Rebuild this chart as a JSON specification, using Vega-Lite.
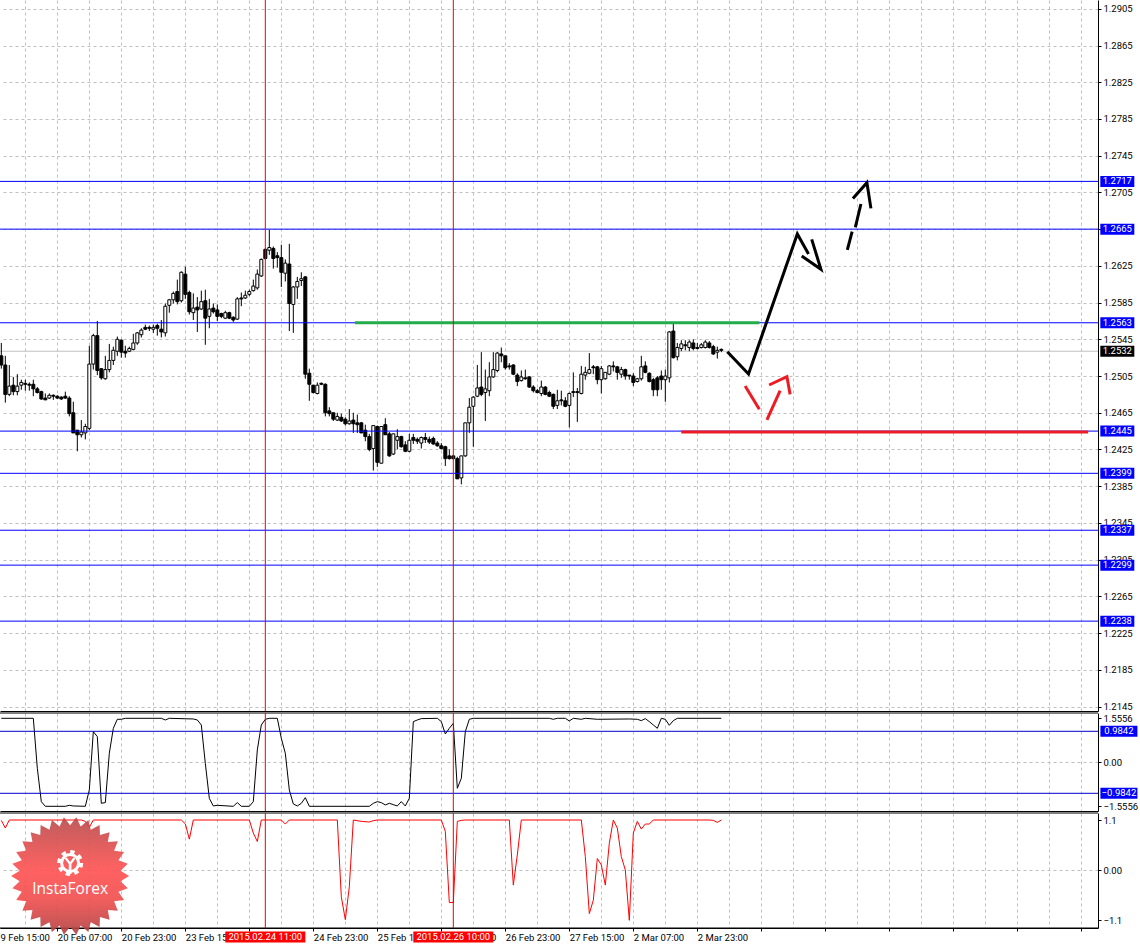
{"$schema":"https://vega.github.io/schema/vega-lite/v6.json","padding":{"left":-1,"top":-1,"right":0,"bottom":0},"background":"white","bounds":"flush","spacing":2,"config":{"font":"Roboto","view":{"stroke":null},"axis":{"title":null,"labelFontSize":9.5,"labelColor":"black","domainColor":"black","tickColor":"black","tickSize":3,"labelPadding":2,"gridColor":"#c0c0c0","gridDash":[3,3],"gridWidth":1,"labelOverlap":false,"labelFlush":false,"labelBound":false}},
"datasets":{
"candles":[
{"bar":0,"open":1.2527,"high":1.2541,"low":1.2513,"close":1.2517},{"bar":1,"open":1.2517,"high":1.2527,"low":1.2476,"close":1.2485},{"bar":2,"open":1.2485,"high":1.2517,"low":1.2483,"close":1.2494},{"bar":3,"open":1.2495,"high":1.2504,"low":1.2484,"close":1.2488},{"bar":4,"open":1.2488,"high":1.2507,"low":1.2484,"close":1.2494},{"bar":5,"open":1.2495,"high":1.2501,"low":1.2490,"close":1.2498},{"bar":6,"open":1.2497,"high":1.2501,"low":1.2489,"close":1.2496},{"bar":7,"open":1.2496,"high":1.2498,"low":1.2489,"close":1.2495},{"bar":8,"open":1.2496,"high":1.2501,"low":1.2483,"close":1.2491},{"bar":9,"open":1.2491,"high":1.2493,"low":1.2486,"close":1.2487},
{"bar":10,"open":1.2488,"high":1.2489,"low":1.2479,"close":1.2480},{"bar":11,"open":1.2481,"high":1.2486,"low":1.2479,"close":1.2479},{"bar":12,"open":1.2481,"high":1.2486,"low":1.2480,"close":1.2484},{"bar":13,"open":1.2484,"high":1.2485,"low":1.2479,"close":1.2483},{"bar":14,"open":1.2483,"high":1.2484,"low":1.2480,"close":1.2481},{"bar":15,"open":1.2482,"high":1.2483,"low":1.2479,"close":1.2480},{"bar":16,"open":1.2483,"high":1.2488,"low":1.2480,"close":1.2481},{"bar":17,"open":1.2481,"high":1.2483,"low":1.2461,"close":1.2464},{"bar":18,"open":1.2465,"high":1.2477,"low":1.2443,"close":1.2443},{"bar":19,"open":1.2446,"high":1.2446,"low":1.2423,"close":1.2441},
{"bar":20,"open":1.2441,"high":1.2457,"low":1.2438,"close":1.2444},{"bar":21,"open":1.2443,"high":1.2453,"low":1.2436,"close":1.2450},{"bar":22,"open":1.2448,"high":1.2538,"low":1.2446,"close":1.2518},{"bar":23,"open":1.2518,"high":1.2551,"low":1.2512,"close":1.2549},{"bar":24,"open":1.2549,"high":1.2565,"low":1.2506,"close":1.2511},{"bar":25,"open":1.2513,"high":1.2513,"low":1.2501,"close":1.2503},{"bar":26,"open":1.2502,"high":1.2527,"low":1.2501,"close":1.2512},{"bar":27,"open":1.2512,"high":1.2540,"low":1.2509,"close":1.2522},{"bar":28,"open":1.2522,"high":1.2537,"low":1.2517,"close":1.2533},{"bar":29,"open":1.2532,"high":1.2548,"low":1.2527,"close":1.2545},
{"bar":30,"open":1.2544,"high":1.2545,"low":1.2525,"close":1.2531},{"bar":31,"open":1.2532,"high":1.2538,"low":1.2525,"close":1.2530},{"bar":32,"open":1.2532,"high":1.2537,"low":1.2531,"close":1.2535},{"bar":33,"open":1.2534,"high":1.2551,"low":1.2533,"close":1.2541},{"bar":34,"open":1.2541,"high":1.2553,"low":1.2539,"close":1.2552},{"bar":35,"open":1.2550,"high":1.2557,"low":1.2547,"close":1.2555},{"bar":36,"open":1.2558,"high":1.2561,"low":1.2555,"close":1.2556},{"bar":37,"open":1.2558,"high":1.2560,"low":1.2554,"close":1.2557},{"bar":38,"open":1.2556,"high":1.2561,"low":1.2552,"close":1.2558},{"bar":39,"open":1.2560,"high":1.2562,"low":1.2549,"close":1.2557},
{"bar":40,"open":1.2556,"high":1.2566,"low":1.2547,"close":1.2553},{"bar":41,"open":1.2552,"high":1.2584,"low":1.2548,"close":1.2581},{"bar":42,"open":1.2582,"high":1.2589,"low":1.2574,"close":1.2588},{"bar":43,"open":1.2588,"high":1.2597,"low":1.2584,"close":1.2595},{"bar":44,"open":1.2597,"high":1.2610,"low":1.2583,"close":1.2586},{"bar":45,"open":1.2587,"high":1.2619,"low":1.2585,"close":1.2618},{"bar":46,"open":1.2616,"high":1.2624,"low":1.2589,"close":1.2594},{"bar":47,"open":1.2596,"high":1.2598,"low":1.2572,"close":1.2575},{"bar":48,"open":1.2574,"high":1.2595,"low":1.2566,"close":1.2579},{"bar":49,"open":1.2580,"high":1.2591,"low":1.2553,"close":1.2577},
{"bar":50,"open":1.2578,"high":1.2598,"low":1.2577,"close":1.2586},{"bar":51,"open":1.2587,"high":1.2599,"low":1.2539,"close":1.2568},{"bar":52,"open":1.2570,"high":1.2589,"low":1.2557,"close":1.2578},{"bar":53,"open":1.2579,"high":1.2584,"low":1.2573,"close":1.2575},{"bar":54,"open":1.2577,"high":1.2583,"low":1.2565,"close":1.2570},{"bar":55,"open":1.2573,"high":1.2574,"low":1.2568,"close":1.2570},{"bar":56,"open":1.2568,"high":1.2576,"low":1.2567,"close":1.2574},{"bar":57,"open":1.2574,"high":1.2575,"low":1.2567,"close":1.2568},{"bar":58,"open":1.2569,"high":1.2570,"low":1.2564,"close":1.2566},{"bar":59,"open":1.2567,"high":1.2591,"low":1.2566,"close":1.2589},
{"bar":60,"open":1.2590,"high":1.2596,"low":1.2581,"close":1.2589},{"bar":61,"open":1.2590,"high":1.2598,"low":1.2589,"close":1.2593},{"bar":62,"open":1.2594,"high":1.2599,"low":1.2592,"close":1.2597},{"bar":63,"open":1.2598,"high":1.2610,"low":1.2597,"close":1.2603},{"bar":64,"open":1.2601,"high":1.2621,"low":1.2599,"close":1.2616},{"bar":65,"open":1.2614,"high":1.2633,"low":1.2613,"close":1.2632},{"bar":66,"open":1.2643,"high":1.2644,"low":1.2632,"close":1.2633},{"bar":67,"open":1.2642,"high":1.2664,"low":1.2637,"close":1.2645},{"bar":68,"open":1.2644,"high":1.2646,"low":1.2622,"close":1.2633},{"bar":69,"open":1.2636,"high":1.2640,"low":1.2623,"close":1.2634},
{"bar":70,"open":1.2634,"high":1.2648,"low":1.2602,"close":1.2618},{"bar":71,"open":1.2617,"high":1.2632,"low":1.2608,"close":1.2628},{"bar":72,"open":1.2627,"high":1.2649,"low":1.2554,"close":1.2584},{"bar":73,"open":1.2583,"high":1.2603,"low":1.2552,"close":1.2602},{"bar":74,"open":1.2602,"high":1.2613,"low":1.2589,"close":1.2608},{"bar":75,"open":1.2609,"high":1.2618,"low":1.2603,"close":1.2611},{"bar":76,"open":1.2613,"high":1.2614,"low":1.2502,"close":1.2507},{"bar":77,"open":1.2508,"high":1.2513,"low":1.2478,"close":1.2496},{"bar":78,"open":1.2495,"high":1.2495,"low":1.2486,"close":1.2487},{"bar":79,"open":1.2486,"high":1.2498,"low":1.2485,"close":1.2495},
{"bar":80,"open":1.2497,"high":1.2498,"low":1.2495,"close":1.2496},{"bar":81,"open":1.2496,"high":1.2497,"low":1.2461,"close":1.2465},{"bar":82,"open":1.2467,"high":1.2471,"low":1.2461,"close":1.2464},{"bar":83,"open":1.2465,"high":1.2465,"low":1.2456,"close":1.2458},{"bar":84,"open":1.2457,"high":1.2465,"low":1.2456,"close":1.2461},{"bar":85,"open":1.2460,"high":1.2464,"low":1.2455,"close":1.2456},{"bar":86,"open":1.2458,"high":1.2460,"low":1.2451,"close":1.2453},{"bar":87,"open":1.2453,"high":1.2469,"low":1.2452,"close":1.2456},{"bar":88,"open":1.2457,"high":1.2465,"low":1.2443,"close":1.2453},{"bar":89,"open":1.2454,"high":1.2463,"low":1.2443,"close":1.2452},
{"bar":90,"open":1.2454,"high":1.2455,"low":1.2443,"close":1.2443},{"bar":91,"open":1.2446,"high":1.2452,"low":1.2434,"close":1.2439},{"bar":92,"open":1.2439,"high":1.2442,"low":1.2423,"close":1.2425},{"bar":93,"open":1.2426,"high":1.2451,"low":1.2402,"close":1.2451},{"bar":94,"open":1.2450,"high":1.2451,"low":1.2406,"close":1.2411},{"bar":95,"open":1.2410,"high":1.2450,"low":1.2410,"close":1.2450},{"bar":96,"open":1.2452,"high":1.2459,"low":1.2441,"close":1.2441},{"bar":97,"open":1.2442,"high":1.2444,"low":1.2417,"close":1.2418},{"bar":98,"open":1.2420,"high":1.2442,"low":1.2419,"close":1.2442},{"bar":99,"open":1.2435,"high":1.2447,"low":1.2425,"close":1.2439},
{"bar":100,"open":1.2439,"high":1.2440,"low":1.2427,"close":1.2428},{"bar":101,"open":1.2430,"high":1.2434,"low":1.2422,"close":1.2423},{"bar":102,"open":1.2423,"high":1.2442,"low":1.2422,"close":1.2435},{"bar":103,"open":1.2438,"high":1.2442,"low":1.2431,"close":1.2435},{"bar":104,"open":1.2436,"high":1.2438,"low":1.2431,"close":1.2434},{"bar":105,"open":1.2432,"high":1.2439,"low":1.2426,"close":1.2438},{"bar":106,"open":1.2438,"high":1.2443,"low":1.2432,"close":1.2436},{"bar":107,"open":1.2436,"high":1.2439,"low":1.2431,"close":1.2433},{"bar":108,"open":1.2437,"high":1.2439,"low":1.2430,"close":1.2431},{"bar":109,"open":1.2432,"high":1.2434,"low":1.2428,"close":1.2429},
{"bar":110,"open":1.2429,"high":1.2432,"low":1.2425,"close":1.2426},{"bar":111,"open":1.2428,"high":1.2429,"low":1.2407,"close":1.2415},{"bar":112,"open":1.2418,"high":1.2425,"low":1.2414,"close":1.2415},{"bar":113,"open":1.2418,"high":1.2419,"low":1.2414,"close":1.2415},{"bar":114,"open":1.2415,"high":1.2417,"low":1.2393,"close":1.2393},{"bar":115,"open":1.2394,"high":1.2418,"low":1.2387,"close":1.2418},{"bar":116,"open":1.2418,"high":1.2454,"low":1.2417,"close":1.2454},{"bar":117,"open":1.2454,"high":1.2481,"low":1.2443,"close":1.2471},{"bar":118,"open":1.2472,"high":1.2483,"low":1.2428,"close":1.2482},{"bar":119,"open":1.2483,"high":1.2517,"low":1.2482,"close":1.2492},
{"bar":120,"open":1.2493,"high":1.2531,"low":1.2483,"close":1.2485},{"bar":121,"open":1.2487,"high":1.2512,"low":1.2456,"close":1.2491},{"bar":122,"open":1.2489,"high":1.2520,"low":1.2483,"close":1.2504},{"bar":123,"open":1.2504,"high":1.2531,"low":1.2503,"close":1.2512},{"bar":124,"open":1.2511,"high":1.2531,"low":1.2509,"close":1.2530},{"bar":125,"open":1.2529,"high":1.2536,"low":1.2520,"close":1.2527},{"bar":126,"open":1.2527,"high":1.2527,"low":1.2512,"close":1.2514},{"bar":127,"open":1.2516,"high":1.2519,"low":1.2512,"close":1.2515},{"bar":128,"open":1.2517,"high":1.2518,"low":1.2506,"close":1.2507},{"bar":129,"open":1.2506,"high":1.2508,"low":1.2494,"close":1.2499},
{"bar":130,"open":1.2500,"high":1.2511,"low":1.2499,"close":1.2504},{"bar":131,"open":1.2503,"high":1.2512,"low":1.2501,"close":1.2502},{"bar":132,"open":1.2504,"high":1.2505,"low":1.2492,"close":1.2493},{"bar":133,"open":1.2493,"high":1.2495,"low":1.2487,"close":1.2489},{"bar":134,"open":1.2489,"high":1.2491,"low":1.2486,"close":1.2487},{"bar":135,"open":1.2486,"high":1.2500,"low":1.2483,"close":1.2493},{"bar":136,"open":1.2493,"high":1.2494,"low":1.2484,"close":1.2485},{"bar":137,"open":1.2487,"high":1.2489,"low":1.2482,"close":1.2483},{"bar":138,"open":1.2485,"high":1.2486,"low":1.2469,"close":1.2472},{"bar":139,"open":1.2473,"high":1.2490,"low":1.2469,"close":1.2478},
{"bar":140,"open":1.2479,"high":1.2489,"low":1.2473,"close":1.2478},{"bar":141,"open":1.2478,"high":1.2482,"low":1.2471,"close":1.2472},{"bar":142,"open":1.2473,"high":1.2487,"low":1.2449,"close":1.2486},{"bar":143,"open":1.2488,"high":1.2509,"low":1.2482,"close":1.2487},{"bar":144,"open":1.2488,"high":1.2492,"low":1.2455,"close":1.2487},{"bar":145,"open":1.2486,"high":1.2516,"low":1.2485,"close":1.2507},{"bar":146,"open":1.2506,"high":1.2515,"low":1.2501,"close":1.2509},{"bar":147,"open":1.2508,"high":1.2530,"low":1.2507,"close":1.2512},{"bar":148,"open":1.2515,"high":1.2517,"low":1.2507,"close":1.2514},{"bar":149,"open":1.2515,"high":1.2516,"low":1.2496,"close":1.2501},
{"bar":150,"open":1.2501,"high":1.2516,"low":1.2486,"close":1.2513},{"bar":151,"open":1.2502,"high":1.2509,"low":1.2501,"close":1.2509},{"bar":152,"open":1.2507,"high":1.2517,"low":1.2506,"close":1.2516},{"bar":153,"open":1.2516,"high":1.2521,"low":1.2510,"close":1.2515},{"bar":154,"open":1.2515,"high":1.2516,"low":1.2501,"close":1.2509},{"bar":155,"open":1.2507,"high":1.2515,"low":1.2503,"close":1.2512},{"bar":156,"open":1.2512,"high":1.2513,"low":1.2501,"close":1.2505},{"bar":157,"open":1.2506,"high":1.2506,"low":1.2501,"close":1.2505},{"bar":158,"open":1.2505,"high":1.2508,"low":1.2494,"close":1.2498},{"bar":159,"open":1.2499,"high":1.2503,"low":1.2498,"close":1.2502},
{"bar":160,"open":1.2502,"high":1.2527,"low":1.2500,"close":1.2515},{"bar":161,"open":1.2516,"high":1.2521,"low":1.2508,"close":1.2509},{"bar":162,"open":1.2508,"high":1.2509,"low":1.2498,"close":1.2499},{"bar":163,"open":1.2501,"high":1.2503,"low":1.2483,"close":1.2490},{"bar":164,"open":1.2503,"high":1.2505,"low":1.2483,"close":1.2490},{"bar":165,"open":1.2505,"high":1.2511,"low":1.2490,"close":1.2501},{"bar":166,"open":1.2501,"high":1.2512,"low":1.2477,"close":1.2505},{"bar":167,"open":1.2503,"high":1.2554,"low":1.2498,"close":1.2553},{"bar":168,"open":1.2554,"high":1.2562,"low":1.2524,"close":1.2525},{"bar":169,"open":1.2526,"high":1.2541,"low":1.2522,"close":1.2536},
{"bar":170,"open":1.2535,"high":1.2544,"low":1.2532,"close":1.2540},{"bar":171,"open":1.2539,"high":1.2544,"low":1.2533,"close":1.2538},{"bar":172,"open":1.2536,"high":1.2544,"low":1.2532,"close":1.2542},{"bar":173,"open":1.2541,"high":1.2545,"low":1.2533,"close":1.2535},{"bar":174,"open":1.2536,"high":1.2541,"low":1.2534,"close":1.2535},{"bar":175,"open":1.2536,"high":1.2541,"low":1.2535,"close":1.2539},{"bar":176,"open":1.2536,"high":1.2544,"low":1.2535,"close":1.2542},{"bar":177,"open":1.2541,"high":1.2543,"low":1.2535,"close":1.2536},{"bar":178,"open":1.2537,"high":1.2539,"low":1.2528,"close":1.2529},{"bar":179,"open":1.2531,"high":1.2537,"low":1.2524,"close":1.2533},
{"bar":180,"open":1.2534,"high":1.2535,"low":1.2531,"close":1.2533}],
"levels":[{"level":1.2717},{"level":1.2665},{"level":1.2563},{"level":1.2445},{"level":1.2399},{"level":1.2337},{"level":1.2299},{"level":1.2238}],
"marks":[{"bar":66},{"bar":113}],
"drawn":[
{"path":"up","kind":"black","seq":1,"bar":181.5,"price":1.25315},{"path":"up","kind":"black","seq":2,"bar":186.8,"price":1.25072},{"path":"up","kind":"black","seq":3,"bar":199,"price":1.26597},{"path":"up","kind":"black","seq":4,"bar":201.8,"price":1.26379},
{"path":"head","kind":"black","seq":1,"bar":200.1,"price":1.26357},{"path":"head","kind":"black","seq":2,"bar":204.9,"price":1.26212},{"path":"head","kind":"black","seq":3,"bar":202.6,"price":1.26539},
{"path":"d1","kind":"black","seq":1,"bar":211.5,"price":1.26423},{"path":"d1","kind":"black","seq":2,"bar":212.7,"price":1.26622},
{"path":"d2","kind":"black","seq":1,"bar":213.5,"price":1.26669},{"path":"d2","kind":"black","seq":2,"bar":214.9,"price":1.26924},
{"path":"d3","kind":"black","seq":1,"bar":212.9,"price":1.26985},{"path":"d3","kind":"black","seq":2,"bar":216.4,"price":1.27156},{"path":"d3","kind":"black","seq":3,"bar":217.4,"price":1.26876},
{"path":"r1","kind":"red","seq":1,"bar":185.95,"price":1.24941},{"path":"r1","kind":"red","seq":2,"bar":189.5,"price":1.24687},
{"path":"r2","kind":"red","seq":1,"bar":191.4,"price":1.24571},{"path":"r2","kind":"red","seq":2,"bar":194.7,"price":1.2489},
{"path":"r3","kind":"red","seq":1,"bar":191.95,"price":1.24952},{"path":"r3","kind":"red","seq":2,"bar":196.4,"price":1.25043},{"path":"r3","kind":"red","seq":3,"bar":197.2,"price":1.2485}],
"logo":[{"bar":17.2,"y":-0.132}]
},
"vconcat":[
{"width":1098,"height":711,"resolve":{"axis":{"x":"independent","y":"independent"}},"layer":[
{"data":{"values":[{"current":1.2532}]},"mark":{"type":"rule","color":"#c0c0c0","strokeWidth":1},"encoding":{"y":{"field":"current","type":"quantitative","scale":{"domain":[1.21401,1.29146],"nice":false,"zero":false},"axis":{"title":null,"orient":"right","grid":true,"domain":true,"ticks":true,"labels":true,"labelOverlap":false,"domainColor":"black","tickColor":"black","values":[1.2905,1.2865,1.2825,1.2785,1.2745,1.2705,1.2665,1.2625,1.2585,1.2545,1.2505,1.2465,1.2425,1.2385,1.2345,1.2305,1.2265,1.2225,1.2185,1.2145],"format":".4f"}}}},
{"data":{"name":"candles"},"mark":{"type":"rule","color":"black","strokeWidth":1},"encoding":{"x":{"field":"bar","type":"quantitative","scale":{"domain":[-0.33,274.17],"nice":false,"zero":false,"padding":0},"axis":{"title":null,"orient":"bottom","grid":true,"values":[6,14,22,30,38,46,54,62,70,78,86,94,102,110,118,126,134,142,150,158,166,174,182,190,198,206,214,222,230,238,246,254,262,270],"labels":false,"ticks":false,"domain":true}},"y":{"field":"high","type":"quantitative","axis":null},"y2":{"field":"low"}}},
{"data":{"name":"candles"},"mark":{"type":"bar","size":3,"stroke":"black","strokeWidth":1},"encoding":{"x":{"field":"bar","type":"quantitative","axis":null,"scale":{"padding":0}},"y":{"field":"open","type":"quantitative","axis":null},"y2":{"field":"close"},"fill":{"condition":{"test":"datum.close>=datum.open","value":"white"},"value":"black"}}},
{"data":{"name":"levels"},"mark":{"type":"rule","color":"#0000ff","strokeWidth":1},"encoding":{"y":{"field":"level","type":"quantitative","axis":null}}},
{"data":{"values":[{"from":88.4,"to":189.5,"resistance":1.2563}]},"mark":{"type":"rule","color":"#22ac4a","strokeWidth":3},"encoding":{"x":{"field":"from","type":"quantitative","axis":null},"x2":{"field":"to"},"y":{"field":"resistance","type":"quantitative","axis":null}}},
{"data":{"values":[{"from":170,"to":271.7,"support":1.2444}]},"mark":{"type":"rule","color":"#ed1c24","strokeWidth":3},"encoding":{"x":{"field":"from","type":"quantitative","axis":null},"x2":{"field":"to"},"y":{"field":"support","type":"quantitative","axis":null}}},
{"data":{"name":"drawn"},"mark":{"type":"line","strokeWidth":3},"encoding":{"x":{"field":"bar","type":"quantitative","axis":null},"y":{"field":"price","type":"quantitative","axis":null},"detail":{"field":"path"},"order":{"field":"seq"},"color":{"field":"kind","type":"nominal","legend":null,"scale":{"domain":["black","red"],"range":["#000000","#ed1c24"]}}}},
{"data":{"name":"marks"},"mark":{"type":"rule","color":"#f00000","strokeWidth":1},"encoding":{"x":{"field":"bar","type":"quantitative","axis":null}}},
{"data":{"name":"levels"},"mark":{"type":"rect","width":34,"height":11,"color":"#0000ff"},"encoding":{"x":{"datum":279,"type":"quantitative","axis":null},"y":{"field":"level","type":"quantitative","axis":null}}},
{"data":{"name":"levels"},"mark":{"type":"text","color":"white","fontSize":9.5,"baseline":"middle","align":"center"},"encoding":{"x":{"datum":279,"type":"quantitative","axis":null},"y":{"field":"level","type":"quantitative","axis":null},"text":{"field":"level","format":".4f"}}},
{"data":{"values":[{"current":1.2532}]},"mark":{"type":"rect","width":34,"height":11,"color":"black"},"encoding":{"x":{"datum":279,"type":"quantitative","axis":null},"y":{"field":"current","type":"quantitative","axis":null}}},
{"data":{"values":[{"current":1.2532}]},"mark":{"type":"text","color":"white","fontSize":9.5,"baseline":"middle","align":"center"},"encoding":{"x":{"datum":279,"type":"quantitative","axis":null},"y":{"field":"current","type":"quantitative","axis":null},"text":{"field":"current","format":".4f"}}}
]},
{"width":1098,"height":98,"resolve":{"axis":{"x":"independent","y":"independent"}},"layer":[
{"data":{"values":[{"top":1.789}]},"mark":{"type":"rule","color":"black","strokeWidth":1},"encoding":{"y":{"field":"top","type":"quantitative","scale":{"domain":[-1.763,-1.5556,-0.9842,0,0.9842,1.5556,1.789],"range":[98,93.3,80.3,49.3,18.3,5.3,0],"nice":false,"zero":false},"axis":{"title":null,"orient":"right","grid":true,"domain":true,"ticks":true,"labels":true,"labelOverlap":false,"domainColor":"black","tickColor":"black","gridOpacity":{"condition":{"test":"datum.value===0","value":1},"value":0},"values":[1.5556,0,-1.5556],"labelExpr":"datum.value===0?'0.00':format(datum.value,'.4f')"}}}},
{"data":{"values":[{"bar":0,"value":1.5556},{"bar":8,"value":1.5556},{"bar":9,"value":-0.19},{"bar":10,"value":-1.351},{"bar":11,"value":-1.5556},{"bar":16,"value":-1.5556},{"bar":17,"value":-1.512},{"bar":18,"value":-1.541},{"bar":21,"value":-1.5556},{"bar":22,"value":-0.878},{"bar":23,"value":0.973},{"bar":24,"value":0.815},{"bar":25,"value":-1.424},{"bar":26,"value":-1.394},{"bar":27,"value":0.286},{"bar":28,"value":1.116},{"bar":29,"value":1.512},{"bar":30,"value":1.512},{"bar":31,"value":1.5556},{"bar":40,"value":1.5556},{"bar":41,"value":1.482},{"bar":42,"value":1.5556},{"bar":48,"value":1.526},{"bar":49,"value":1.482},{"bar":50,"value":1.263},{"bar":51,"value":-0.032},{"bar":52,"value":-1.204},{"bar":53,"value":-1.541},{"bar":54,"value":-1.512},{"bar":58,"value":-1.5556},{"bar":59,"value":-1.394},{"bar":60,"value":-1.5556},{"bar":62,"value":-1.5556},{"bar":63,"value":-1.351},{"bar":64,"value":0.391},{"bar":65,"value":1.263},{"bar":66,"value":1.512},{"bar":67,"value":1.5556},{"bar":69,"value":1.5556},{"bar":70,"value":0.762},{"bar":71,"value":0.286},{"bar":72,"value":-0.878},{"bar":73,"value":-1.453},{"bar":74,"value":-1.541},{"bar":75,"value":-1.424},{"bar":76,"value":-1.175},{"bar":77,"value":-1.5556},{"bar":92,"value":-1.5556},{"bar":93,"value":-1.424},{"bar":94,"value":-1.351},{"bar":95,"value":-1.394},{"bar":96,"value":-1.497},{"bar":97,"value":-1.424},{"bar":98,"value":-1.482},{"bar":99,"value":-1.541},{"bar":100,"value":-1.351},{"bar":101,"value":-1.541},{"bar":102,"value":-1.204},{"bar":103,"value":1.409},{"bar":104,"value":1.482},{"bar":105,"value":1.541},{"bar":109,"value":1.5556},{"bar":110,"value":1.409},{"bar":111,"value":0.899},{"bar":112,"value":1.116},{"bar":113,"value":1.336},{"bar":114,"value":-0.825},{"bar":115,"value":-0.508},{"bar":116,"value":0.973},{"bar":117,"value":1.512},{"bar":118,"value":1.5556},{"bar":137,"value":1.5556},{"bar":138,"value":1.512},{"bar":139,"value":1.5556},{"bar":141,"value":1.5556},{"bar":142,"value":1.438},{"bar":143,"value":1.5556},{"bar":145,"value":1.512},{"bar":146,"value":1.5556},{"bar":149,"value":1.512},{"bar":157,"value":1.526},{"bar":159,"value":1.512},{"bar":160,"value":1.453},{"bar":161,"value":1.541},{"bar":162,"value":1.409},{"bar":163,"value":1.263},{"bar":164,"value":1.116},{"bar":165,"value":1.5556},{"bar":166,"value":1.512},{"bar":167,"value":1.248},{"bar":168,"value":1.453},{"bar":169,"value":1.5556},{"bar":180,"value":1.5556}]},"mark":{"type":"line","color":"black","strokeWidth":1},"encoding":{"x":{"field":"bar","type":"quantitative","scale":{"domain":[-0.33,274.17],"nice":false,"zero":false},"axis":{"title":null,"orient":"bottom","grid":true,"values":[6,14,22,30,38,46,54,62,70,78,86,94,102,110,118,126,134,142,150,158,166,174,182,190,198,206,214,222,230,238,246,254,262,270],"labels":false,"ticks":false,"domain":true}},"y":{"field":"value","type":"quantitative","axis":null}}},
{"data":{"values":[{"level":0.9842},{"level":-0.9842}]},"mark":{"type":"rule","color":"#0000c8","strokeWidth":1},"encoding":{"y":{"field":"level","type":"quantitative","axis":null}}},
{"data":{"name":"marks"},"mark":{"type":"rule","color":"#f00000","strokeWidth":1},"encoding":{"x":{"field":"bar","type":"quantitative","axis":null}}},
{"data":{"values":[{"level":0.9842},{"level":-0.9842}]},"mark":{"type":"rect","width":37,"height":11,"color":"#0000ff"},"encoding":{"x":{"datum":279.4,"type":"quantitative","axis":null},"y":{"field":"level","type":"quantitative","axis":null}}},
{"data":{"values":[{"level":0.9842},{"level":-0.9842}]},"mark":{"type":"text","color":"white","fontSize":9.5,"baseline":"middle","align":"center"},"encoding":{"x":{"datum":279.4,"type":"quantitative","axis":null},"y":{"field":"level","type":"quantitative","axis":null},"text":{"field":"level","format":".4f"}}}
]},
{"width":1098,"height":115,"resolve":{"axis":{"x":"independent","y":"independent"}},"layer":[
{"data":{"values":[{"top":1.254}]},"mark":{"type":"rule","color":"black","strokeWidth":1},"encoding":{"y":{"field":"top","type":"quantitative","scale":{"domain":[-1.276,1.254],"nice":false,"zero":false},"axis":{"title":null,"orient":"right","grid":true,"domain":true,"ticks":true,"labels":true,"labelOverlap":false,"domainColor":"black","tickColor":"black","gridOpacity":{"condition":{"test":"datum.value===0","value":1},"value":0},"values":[1.1,0,-1.1],"labelExpr":"datum.value===0?'0.00':format(datum.value,'.1f')"}}}},
{"data":{"values":[{"bar":0,"value":1.092},{"bar":1,"value":0.923},{"bar":2,"value":1.1},{"bar":20,"value":1.1},{"bar":21,"value":1.07},{"bar":22,"value":0.937},{"bar":23,"value":1.1},{"bar":45,"value":1.1},{"bar":46,"value":1.018},{"bar":47,"value":0.679},{"bar":48,"value":1.1},{"bar":62,"value":1.1},{"bar":63,"value":0.812},{"bar":64,"value":0.627},{"bar":65,"value":1.1},{"bar":70,"value":1.1},{"bar":71,"value":1.011},{"bar":72,"value":1.1},{"bar":84,"value":1.1},{"bar":85,"value":-0.59},{"bar":86,"value":-1.092},{"bar":87,"value":-0.369},{"bar":88,"value":1.1},{"bar":90,"value":1.07},{"bar":92,"value":1.055},{"bar":93,"value":1.085},{"bar":94,"value":1.1},{"bar":110,"value":1.1},{"bar":111,"value":0.849},{"bar":112,"value":-0.716},{"bar":113,"value":-0.716},{"bar":114,"value":1.07},{"bar":115,"value":1.092},{"bar":116,"value":1.1},{"bar":127,"value":1.1},{"bar":128,"value":-0.332},{"bar":129,"value":0.332},{"bar":130,"value":1.1},{"bar":145,"value":1.1},{"bar":146,"value":0.295},{"bar":147,"value":-0.959},{"bar":148,"value":-0.664},{"bar":149,"value":0.251},{"bar":150,"value":0.111},{"bar":151,"value":-0.332},{"bar":152,"value":0.59},{"bar":153,"value":1.1},{"bar":154,"value":0.923},{"bar":155,"value":0.295},{"bar":156,"value":0},{"bar":157,"value":-1.107},{"bar":158,"value":0.812},{"bar":159,"value":1.07},{"bar":160,"value":0.9},{"bar":161,"value":1.011},{"bar":162,"value":1.011},{"bar":163,"value":1.1},{"bar":177,"value":1.1},{"bar":178,"value":1.092},{"bar":179,"value":1.048},{"bar":180,"value":1.1}]},"mark":{"type":"line","color":"#ff0000","strokeWidth":1},"encoding":{"x":{"field":"bar","type":"quantitative","scale":{"domain":[-0.33,274.17],"nice":false,"zero":false},"axis":{"title":null,"orient":"bottom","grid":true,"labelOverlap":false,"gridOpacity":{"condition":{"test":"datum.value>0","value":1},"value":0},"tickOpacity":{"condition":{"test":"datum.value%16===14","value":1},"value":0},"domain":true,"ticks":true,"labelAlign":"left","labelPadding":1,"values":[-0.3,6,14,22,30,38,46,54,62,70,78,86,94,102,110,118,126,134,142,150,158,166,174,182,190,198,206,214,222,230,238,246,254,262,270],"labelExpr":"datum.value<0?'9 Feb 15:00':datum.value===14?'20 Feb 07:00':datum.value===30?'20 Feb 23:00':datum.value===46?'23 Feb 15:00':datum.value===62?'24 Feb 07:00':datum.value===78?'24 Feb 23:00':datum.value===94?'25 Feb 15:00':datum.value===110?'26 Feb 07:00':datum.value===126?'26 Feb 23:00':datum.value===142?'27 Feb 15:00':datum.value===158?'2 Mar 07:00':datum.value===174?'2 Mar 23:00':''"}},"y":{"field":"value","type":"quantitative","axis":null}}},
{"data":{"values":[{"bottom":-1.276}]},"mark":{"type":"rule","color":"black","strokeWidth":1},"encoding":{"y":{"field":"bottom","type":"quantitative","axis":null}}},
{"data":{"name":"marks"},"mark":{"type":"rule","color":"#f00000","strokeWidth":1},"encoding":{"x":{"field":"bar","type":"quantitative","axis":null}}},
{"data":{"values":[{"bar":66,"label":"2015.02.24 11:00"},{"bar":113,"label":"2015.02.26 10:00"}]},"mark":{"type":"rect","width":80,"height":11,"color":"#ff0000"},"encoding":{"x":{"field":"bar","type":"quantitative","axis":null},"y":{"value":124}}},
{"data":{"values":[{"bar":66,"label":"2015.02.24 11:00"},{"bar":113,"label":"2015.02.26 10:00"}]},"mark":{"type":"text","color":"white","fontSize":9.5,"baseline":"middle","align":"center"},"encoding":{"x":{"field":"bar","type":"quantitative","axis":null},"y":{"value":124},"text":{"field":"label"}}},
{"data":{"name":"logo"},"mark":{"type":"point","filled":true,"opacity":0.9,"strokeWidth":0,"size":13924,"shape":"M1,0L.855,.09L.978,.208L.818,.266L.914,.407L.745,.43L.809,.588L.639,.575L.669,.743L.506,.696L.5,.866L.35,.786L.309,.951L.179,.841L.105,.995L0,.86L-.105,.995L-.179,.841L-.309,.951L-.35,.786L-.5,.866L-.506,.696L-.669,.743L-.639,.575L-.809,.588L-.745,.43L-.914,.407L-.818,.266L-.978,.208L-.855,.09L-1,0L-.855,-.09L-.978,-.208L-.818,-.266L-.914,-.407L-.745,-.43L-.809,-.588L-.639,-.575L-.669,-.743L-.506,-.696L-.5,-.866L-.35,-.786L-.309,-.951L-.179,-.841L-.105,-.995L0,-.86L.105,-.995L.179,-.841L.309,-.951L.35,-.786L.5,-.866L.506,-.696L.669,-.743L.639,-.575L.809,-.588L.745,-.43L.914,-.407L.818,-.266L.978,-.208L.855,-.09Z","fill":{"gradient":"linear","x1":0,"y1":0,"x2":0,"y2":1,"stops":[{"offset":0,"color":"#b84a4a"},{"offset":0.45,"color":"#ff5050"},{"offset":0.7,"color":"#f04c4c"},{"offset":1,"color":"#b04040"}]}},"encoding":{"x":{"field":"bar","type":"quantitative","axis":null},"y":{"field":"y","type":"quantitative","axis":null}}},
{"data":{"values":[{"bar":17.2,"y":0.154}]},"mark":{"type":"point","filled":false,"stroke":"white","strokeWidth":4,"strokeDash":[4.3,4.3],"size":484,"shape":"circle","opacity":1},"encoding":{"x":{"field":"bar","type":"quantitative","axis":null},"y":{"field":"y","type":"quantitative","axis":null}}},
{"data":{"values":[{"bar":17.2,"y":0.154}]},"mark":{"type":"point","filled":false,"stroke":"white","strokeWidth":3,"size":289,"shape":"circle","opacity":1},"encoding":{"x":{"field":"bar","type":"quantitative","axis":null},"y":{"field":"y","type":"quantitative","axis":null}}},
{"data":{"values":[{"bar":17.2,"y":0.154}]},"mark":{"type":"point","filled":true,"fill":"white","strokeWidth":0,"opacity":1,"size":484,"shape":"M-.5,-.4L-.12,.1L-.12,1L.12,1L.12,.1L.5,-.4L.3,-.5L0,-.1L-.3,-.5Z"},"encoding":{"x":{"field":"bar","type":"quantitative","axis":null},"y":{"field":"y","type":"quantitative","axis":null}}},
{"data":{"values":[{"bar":17.2,"y":-0.418,"label":"InstaForex"}]},"mark":{"type":"text","color":"white","font":"Open Sans","fontSize":15.5,"baseline":"middle","align":"center"},"encoding":{"x":{"field":"bar","type":"quantitative","axis":null},"y":{"field":"y","type":"quantitative","axis":null},"text":{"field":"label"}}}
]}
]}
